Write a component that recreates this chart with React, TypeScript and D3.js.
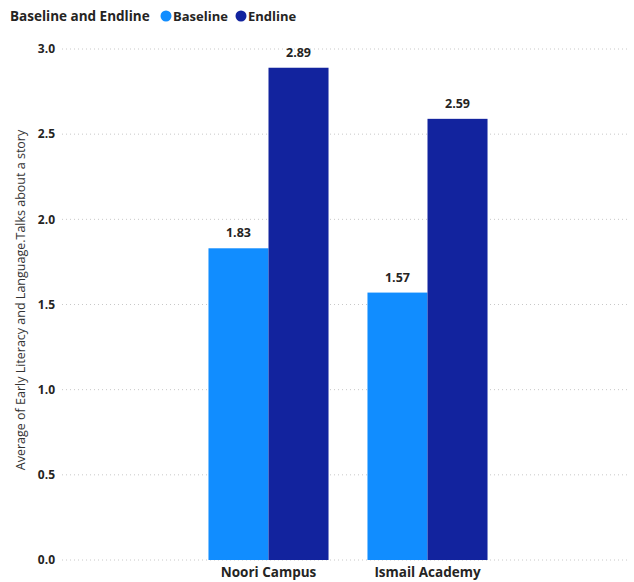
import * as d3 from "d3";

// data
const categories = ["Noori Campus", "Ismail Academy"];
const seriesKeys = ["Baseline", "Endline"];
const baseline = [1.83, 1.57];
const endline = [2.89, 2.59];
const yTicks = [0, 0.5, 1, 1.5, 2, 2.5, 3];

const W = 634;
const H = 582;
const COLORS: Record<string, string> = { Baseline: "#118DFF", Endline: "#12239E" };
const FONT = "'Open Sans', 'DejaVu Sans', sans-serif";

export default function App() {
  const y = d3.scaleLinear().domain([0, 3]).range([560, 49]);
  const x0 = d3
    .scaleBand<string>()
    .domain(categories)
    .range([189, 507])
    .paddingInner(0.245)
    .paddingOuter(0.1225);
  const x1 = d3.scaleBand<string>().domain(seriesKeys).range([0, x0.bandwidth()]);

  const values: Record<string, number[]> = { Baseline: baseline, Endline: endline };

  return (
    <svg
      width={W}
      height={H}
      style={{ position: "absolute", left: 0, top: 0, background: "#fff" }}
      fontFamily={FONT}
    >
      {/* legend */}
      <text x={10} y={21} fontSize={13.5} fontWeight={700} fill="#252423">
        Baseline and Endline
      </text>
      <circle cx={166} cy={16} r={5.5} fill={COLORS.Baseline} />
      <text x={173} y={21} fontSize={13} fontWeight={700} fill="#252423">
        Baseline
      </text>
      <circle cx={241} cy={16} r={5.5} fill={COLORS.Endline} />
      <text x={248} y={21} fontSize={13} fontWeight={700} fill="#252423">
        Endline
      </text>

      {/* grid + y ticks */}
      {yTicks.map((t) => (
        <g key={t}>
          <line
            x1={62}
            x2={630}
            y1={y(t)}
            y2={y(t)}
            stroke="#c8c8c8"
            strokeWidth={1}
            strokeDasharray="1 3"
          />
          <text
            x={55}
            y={y(t)}
            dy="0.35em"
            textAnchor="end"
            fontSize={12}
            fontWeight={700}
            fill="#252423"
          >
            {d3.format(".1f")(t)}
          </text>
        </g>
      ))}

      {/* y axis title */}
      <text
        transform={`translate(25,300) rotate(-90)`}
        textAnchor="middle"
        fontSize={12.5}
        fill="#333"
      >
        Average of Early Literacy and Language.Talks about a story
      </text>

      {/* bars */}
      {categories.map((c, i) => (
        <g key={c} transform={`translate(${x0(c)},0)`}>
          {seriesKeys.map((k) => {
            const v = values[k][i];
            const bx = x1(k) as number;
            return (
              <g key={k}>
                <rect
                  x={bx}
                  y={y(v)}
                  width={x1.bandwidth()}
                  height={y(0) - y(v)}
                  fill={COLORS[k]}
                />
                <text
                  x={bx + x1.bandwidth() / 2}
                  y={y(v) - 11}
                  textAnchor="middle"
                  fontSize={12.5}
                  fontWeight={700}
                  fill="#252423"
                >
                  {d3.format(".2f")(v)}
                </text>
              </g>
            );
          })}
          <text
            x={x0.bandwidth() / 2}
            y={577}
            textAnchor="middle"
            fontSize={13.5}
            fontWeight={700}
            fill="#252423"
          >
            {c}
          </text>
        </g>
      ))}
    </svg>
  );
}
